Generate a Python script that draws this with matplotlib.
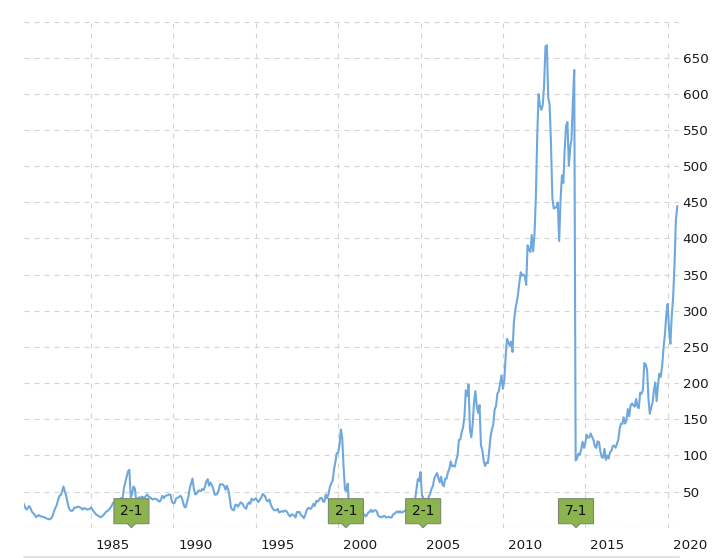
import datetime as dt

import matplotlib
matplotlib.use("Agg")
import matplotlib.pyplot as plt
import matplotlib.transforms as mtransforms
from matplotlib.patches import Polygon
from matplotlib.lines import Line2D
import pandas as pd

plt.rcParams["font.family"] = ["DejaVu Sans"]
plt.rcParams["lines.scale_dashes"] = False

# ---------------- data (monthly closing price, unadjusted) ----------------
start_month = "1980-12-01"

prices_1980s = [
    33,
    28, 25, 27, 30, 27, 22, 20, 18, 14.5, 16, 17.5, 16,
    15.5, 15, 14.5, 13.5, 12.5, 12, 11.5, 13, 16, 22, 27, 31,
    38, 44, 45, 50, 57, 50, 44, 34.5, 27, 24, 23, 24.5,
    28, 27.5, 29, 29, 28, 27, 25, 27, 26.5, 25, 25.5, 26,
    28, 25, 22.5, 20, 18, 17, 15.5, 14.5, 15.5, 17.5, 19.5, 22,
    23, 25, 27, 30, 34, 36, 35, 37, 38, 39, 41, 40,
    55, 63, 70, 78, 80, 42, 47, 57, 54, 36, 40, 42,
    41, 43, 42, 41, 44, 46, 43, 42, 40, 39, 40, 40,
    39, 37, 36, 39, 44, 41, 43.5, 44.5, 45, 46, 45.5, 35.5,
]
prices_1990s = [
    34, 34.5, 40.5, 41.5, 42, 44, 42.5, 36, 29, 28, 36, 43,
    55.5, 62, 68, 53, 46, 47, 50.5, 51.5, 50.5, 53.5, 52, 56.5,
    64, 67, 58, 62.5, 59, 54.5, 46, 45.5, 47, 52, 60, 59.75,
    60, 57.5, 52.5, 58, 53, 42, 27.5, 25, 24, 31, 32, 29,
    32, 35, 34, 31, 28, 26, 32, 35, 33, 40, 38, 39,
    40.5, 37.5, 35.5, 39, 41, 46.5, 45.5, 42.5, 37.5, 36.5, 39, 32,
    27.5, 25, 24, 24, 26, 21, 22, 23, 22, 23.5, 23.5, 21,
    17.5, 15.5, 18.25, 18, 17, 14.25, 21.75, 21.3, 21.7, 17, 16, 13.1,
    17.5, 24, 27, 27, 26, 28.5, 33, 30, 37, 36, 38, 41,
    41, 36.2, 35.8, 45.8, 40.9, 46.3, 55.7, 61.5, 64.9, 80.3, 91, 102.8,
]
prices_2000s = [
    103.75, 114.6, 135.8, 124.1, 84, 52.4, 50.8, 61, 25.75, 19.56, 16.5, 14.9,
    21.6, 18.25, 22.07, 25.49, 19.95, 23.25, 18.79, 18.55, 15.51, 17.56, 21.3, 21.9,
    24.72, 21.7, 23.67, 24.27, 23.3, 17.72, 15.26, 14.76, 14.5, 16.07, 15.9, 14.33,
    14.36, 15.01, 14.14, 14.22, 17.95, 19.06, 21.08, 22.61, 20.72, 22.89, 20.91, 21.37,
    22.56, 23.92, 27.04, 25.78, 28.06, 32.54, 32.34, 34.66, 38.75, 52.4, 67.05, 64.4,
    76.9, 44.86, 41.67, 36.06, 39.76, 36.81, 42.65, 46.89, 53.61, 57.59, 67.82, 71.89,
    75.51, 68.49, 62.72, 70.39, 59.77, 57.27, 67.96, 67.85, 76.98, 81.08, 91.66, 84.84,
    85.73, 84.61, 92.91, 99.8, 121.19, 122.04, 131.76, 138.48, 153.47, 189.95, 182.22, 198.08,
    135.36, 125.02, 143.5, 173.95, 188.75, 167.44, 158.95, 169.53, 113.66, 107.59, 92.67, 85.35,
    90.13, 89.31, 105.12, 125.83, 135.81, 142.43, 163.39, 168.21, 185.35, 188.5, 199.91, 210.73,
]
prices_2010s = [
    192.06, 204.62, 235.0, 261.09, 256.88, 251.53, 257.25, 243.1, 283.75, 300.98, 311.15, 322.56,
    339.32, 353.21, 348.51, 350.13, 347.83, 335.67, 390.48, 384.83, 381.32, 404.78, 382.2, 405.0,
    456.48, 542.44, 599.55, 583.98, 577.73, 584.0, 610.76, 665.24, 667.1, 595.32, 585.28, 532.17,
    455.49, 441.4, 442.66, 442.78, 449.73, 396.53, 452.53, 487.22, 476.75, 522.7, 556.07, 561.02,
    500.6, 526.24, 536.74, 590.09, 633.0, 92.93, 95.6, 102.5, 100.75, 108.0, 118.93, 110.38,
    117.16, 128.46, 124.43, 125.15, 130.28, 125.43, 121.3, 112.76, 110.3, 119.5, 118.3, 105.26,
    97.34, 96.69, 108.99, 93.74, 99.86, 95.6, 104.21, 106.1, 113.05, 113.54, 110.52, 115.82,
    121.35, 136.99, 143.66, 143.65, 152.76, 144.02, 148.73, 164.0, 154.12, 169.04, 171.85, 169.23,
    167.43, 178.12, 167.78, 165.26, 186.87, 185.11, 190.29, 227.63, 225.74, 218.86, 178.58, 157.74,
    166.44, 173.15, 189.95, 200.67, 175.07, 197.92, 213.04, 208.74, 223.97, 248.76, 267.25, 293.65,
]
prices_2020 = [309.51, 273.36, 254.29, 293.8, 317.94, 364.8, 425.04, 444.45]

split_dates = ["1987-06-16", "2000-06-21", "2005-02-28", "2014-06-09"]
split_labels = ["2-1", "2-1", "2-1", "7-1"]

x_tick_years = [1985, 1990, 1995, 2000, 2005, 2010, 2015, 2020]
y_tick_values = [50, 100, 150, 200, 250, 300, 350, 400, 450, 500, 550, 600, 650]
y_grid_values = [0, 50, 100, 150, 200, 250, 300, 350, 400, 450, 500, 550, 600, 650, 700]

prices = prices_1980s + prices_1990s + prices_2000s + prices_2010s + prices_2020
dates = pd.date_range(start=start_month, periods=len(prices), freq="MS")

# ---------------- figure ----------------
W, H, DPI = 717, 558, 100
fig = plt.figure(figsize=(W / DPI, H / DPI), dpi=DPI)
px_left, px_right, px_top, px_bottom = 23.7, 678.5, 21.5, 527.7
ax = fig.add_axes([px_left / W, (H - px_bottom) / H,
                   (px_right - px_left) / W, (px_bottom - px_top) / H])

line_color = "#6fa8dc"
grid_color = "#d4d4d4"
dash = (0, (3.6, 3.6))

ax.plot(dates, prices, color=line_color, lw=1.5, solid_joinstyle="round", zorder=3)

ax.set_xlim(dt.datetime(1980, 12, 1), dt.datetime(2020, 8, 28))
ax.set_ylim(0, 700)

for v in y_grid_values:
    ax.axhline(v, color="#a8a8a8" if v == 0 else grid_color, lw=0.8,
               linestyle=dash, zorder=1)

xticks = [dt.datetime(y, 1, 1) for y in x_tick_years]
ax.set_xticks(xticks)
ax.set_xticklabels([str(y) for y in x_tick_years])
ax.grid(axis="x", color=grid_color, lw=0.8, linestyle=dash, zorder=1)

ax.yaxis.tick_right()
ax.set_yticks(y_tick_values)
ax.set_yticklabels([str(v) for v in y_tick_values])

for s in ax.spines.values():
    s.set_visible(False)

ax.tick_params(axis="x", length=0, pad=8, labelsize=9.7, colors="#1a1a1a")
ax.tick_params(axis="y", length=0, pad=3, labelsize=9.7, colors="#1a1a1a")

shift = mtransforms.ScaledTranslation(5 / DPI, 0, fig.dpi_scale_trans)
for lab in ax.get_xticklabels():
    lab.set_ha("left")
    lab.set_transform(lab.get_transform() + shift)

# split flags
flag_px = [(-17.5, 4), (-4, 4), (0, 0), (4, 4), (17.5, 4), (17.5, 29), (-17.5, 29)]
flag_in = [(x / DPI, y / DPI) for x, y in flag_px]
for d, lbl in zip(split_dates, split_labels):
    anchor = pd.Timestamp(d).to_pydatetime()
    import matplotlib.dates as mdates
    trans = fig.dpi_scale_trans + mtransforms.ScaledTranslation(
        mdates.date2num(anchor), 0, ax.transData)
    poly = Polygon(flag_in, closed=True, facecolor="#8cb44e", edgecolor="#7b8a6e",
                   lw=0.8, transform=trans, clip_on=False, zorder=5)
    ax.add_patch(poly)
    ax.text(0, 16.5 / DPI, lbl, transform=trans, ha="center", va="center",
            fontsize=10, color="#111111", zorder=6, clip_on=False)

fig.add_artist(Line2D([px_left / W, px_right / W], [1.2 / H, 1.2 / H],
                      color="#dddddd", lw=1.2))

fig.savefig("out.png", dpi=DPI)
